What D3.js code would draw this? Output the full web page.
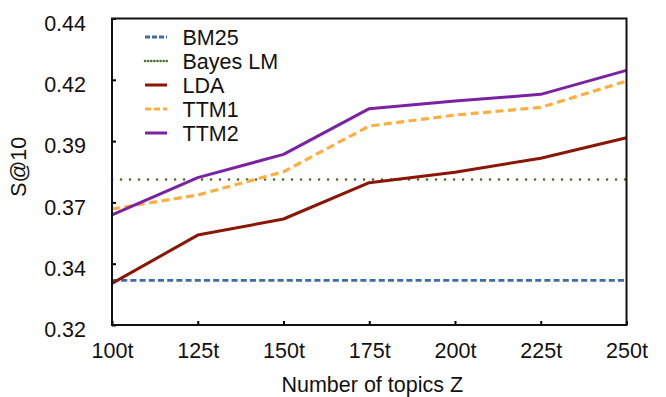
<!DOCTYPE html>
<html><head><meta charset="utf-8">
<script src="https://cdn.jsdelivr.net/npm/d3@7/dist/d3.min.js"></script>
<style>
html,body{margin:0;padding:0;background:#fff;}
svg text{font-family:"Liberation Sans",Arial,Helvetica,sans-serif;fill:#111;}
</style></head>
<body><svg id="c" width="666" height="397"></svg>
<script>
const categories = ["100t","125t","150t","175t","200t","225t","250t"];
const bm25    = [0.3375,0.3375,0.3375,0.3375,0.3375,0.3375,0.3375];
const bayesLM = [0.3770,0.3770,0.3770,0.3770,0.3770,0.3770,0.3770];
const lda     = [0.3363,0.3552,0.3615,0.3757,0.3798,0.3853,0.3933];
const ttm1    = [0.3654,0.3709,0.3800,0.3979,0.4022,0.4052,0.4155];
const ttm2    = [0.3631,0.3777,0.3868,0.4047,0.4077,0.4103,0.4197];
const yTickValues = [0.32,0.344,0.368,0.392,0.416,0.44];
const yTickLabels = ["0.32","0.34","0.37","0.39","0.42","0.44"];
const seriesNames = ["BM25","Bayes LM","LDA","TTM1","TTM2"];

const series = [
  {name:seriesNames[0], values:bm25,    color:"#3d6ca6", width:2.8, dash:"6,3.2", cap:"butt"},
  {name:seriesNames[1], values:bayesLM, color:"#4a6a28", width:2.5, dash:"0.1,8.9", cap:"round"},
  {name:seriesNames[2], values:lda,     color:"#8a1605", width:3, dash:null, cap:"butt"},
  {name:seriesNames[3], values:ttm1,    color:"#ffae3f", width:3.2, dash:"8,4.5", cap:"butt"},
  {name:seriesNames[4], values:ttm2,    color:"#7b22a4", width:3, dash:null, cap:"butt"}
];

const FS = 21.5;
const L=112, R=626.5, T=18.5, B=325;
const svg = d3.select("#c");
const x = d3.scalePoint().domain(categories).range([L,R]).padding(0);
const y = d3.scaleLinear().domain([0.32,0.44]).range([B,T]);

const line = d3.line().x((d,i)=>x(categories[i])).y(d=>y(d));

series.forEach(s=>{
  svg.append("path").datum(s.values)
    .attr("d", line)
    .attr("fill","none")
    .attr("stroke", s.color)
    .attr("stroke-width", s.width)
    .attr("stroke-dasharray", s.dash)
    .attr("stroke-linecap", s.cap)
    .attr("stroke-linejoin","round");
});

// axes
const yAxis = d3.axisLeft(y).tickValues(yTickValues)
  .tickFormat((d,i)=>yTickLabels[i]).tickSizeInner(-4).tickSizeOuter(0).tickPadding(26);
const gy = svg.append("g").attr("transform",`translate(${L},0)`).call(yAxis);
gy.select(".domain").remove();
gy.selectAll(".tick line").attr("stroke","#000").attr("stroke-width",2);
gy.selectAll(".tick text").attr("font-size",FS).attr("dy","0.55em").attr("x",-26).attr("fill","#111");

const xAxis = d3.axisBottom(x).tickSizeInner(-4).tickSizeOuter(0).tickPadding(18);
const gx = svg.append("g").attr("transform",`translate(0,${B})`).call(xAxis);
gx.select(".domain").remove();
gx.selectAll(".tick line").attr("stroke","#000").attr("stroke-width",2);
gx.selectAll(".tick text").attr("font-size",FS).attr("fill","#111");

// frame
svg.append("rect").attr("x",L).attr("y",T).attr("width",R-L).attr("height",B-T)
  .attr("fill","none").attr("stroke","#111").attr("stroke-width",2);

// axis titles
svg.append("text").attr("x",(L+R)/2+3).attr("y",392).attr("text-anchor","middle")
  .attr("font-size",FS).text("Number of topics Z");
svg.append("text").attr("transform",`translate(26,${(T+B)/2-5}) rotate(-90)`)
  .attr("text-anchor","middle").attr("font-size",FS).text("S@10");

// legend
const lg = svg.append("g");
series.forEach((s,i)=>{
  const yy = 37 + i*24;
  lg.append("line").attr("x1",145).attr("x2",167).attr("y1",yy).attr("y2",yy)
    .attr("stroke",s.color).attr("stroke-width",s.width)
    .attr("stroke-dasharray", s.dash ? (i===1 ? "0.1,3" : (i===0 ? "5,2" : "6,3")) : null)
    .attr("stroke-linecap", s.cap);
  lg.append("text").attr("x",182.5).attr("y",yy+8).attr("font-size",FS).text(s.name);
});
</script></body></html>
